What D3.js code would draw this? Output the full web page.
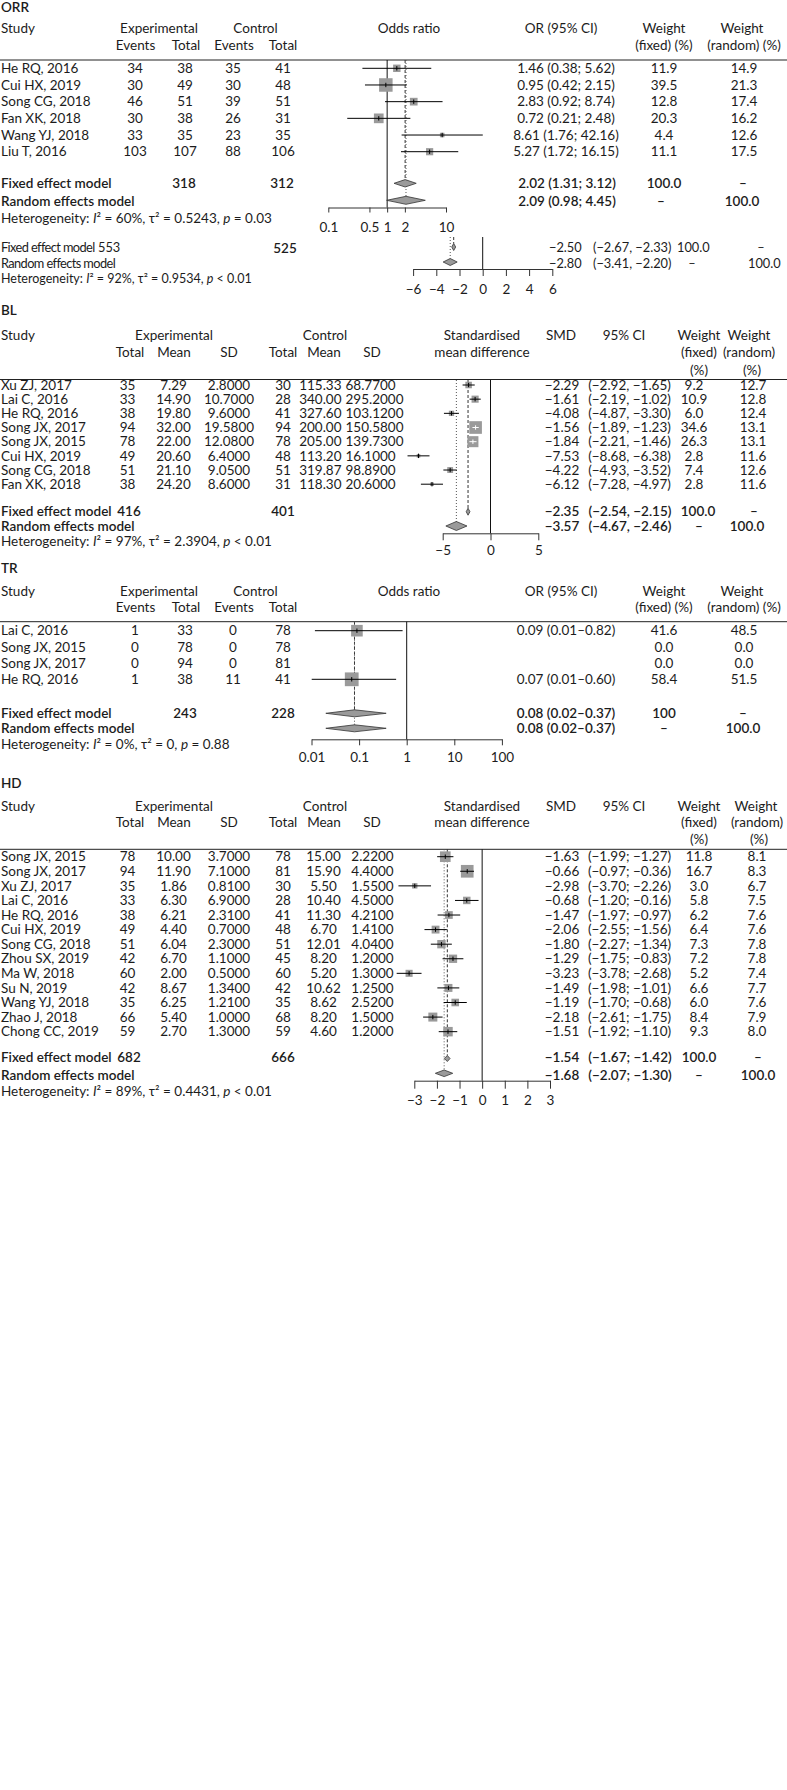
<!DOCTYPE html>
<html><head><meta charset="utf-8">
<script src="https://cdn.jsdelivr.net/npm/d3@7"></script>
<style>
body{margin:0;background:#fff;}
svg text{font-family:Lato,"Open Sans",sans-serif;font-size:13.5px;fill:#1c1c1c;}
</style></head><body>
<svg id="chart" width="787" height="1790"></svg>
<script>
// ---------------- ORR ----------------
const orrStudies = ["He RQ, 2016","Cui HX, 2019","Song CG, 2018","Fan XK, 2018","Wang YJ, 2018","Liu T, 2016"];
const orrExpEvents = [34,30,46,30,33,103];
const orrExpTotal = [38,49,51,38,35,107];
const orrCtrlEvents = [35,30,39,26,23,88];
const orrCtrlTotal = [41,48,51,31,35,106];
const orrOR = [1.46,0.95,2.83,0.72,8.61,5.27];
const orrLo = [0.38,0.42,0.92,0.21,1.76,1.72];
const orrHi = [5.62,2.15,8.74,2.48,42.16,16.15];
const orrWFixed = [11.9,39.5,12.8,20.3,4.4,11.1];
const orrWRandom = [14.9,21.3,17.4,16.2,12.6,17.5];
const orrFixed = [2.02,1.31,3.12];
const orrRandom = [2.09,0.98,4.45];
const orrTotals = [318,312];
const orrSumW = [["100.0","–"],["–","100.0"]];
const orrHet = ["60%","0.5243","= 0.03"];
const orrTicks = [0.1,0.5,1,2,10];
const orrTickLabels = ["0.1","0.5","1","2","10"];

// -------- pooled SMD block under ORR --------
const extraFixed = [-2.50,-2.67,-2.33];
const extraRandom = [-2.80,-3.41,-2.20];
const extraTotals = [553,525];
const extraSumW = [["100.0","–"],["–","100.0"]];
const extraHet = ["92%","0.9534","< 0.01"];
const extraTicks = [-6,-4,-2,0,2,4,6];

// ---------------- BL ----------------
const blStudies = ["Xu ZJ, 2017","Lai C, 2016","He RQ, 2016","Song JX, 2017","Song JX, 2015","Cui HX, 2019","Song CG, 2018","Fan XK, 2018"];
const blExpTotal = [35,33,38,94,78,49,51,38];
const blExpMean = [7.29,14.90,19.80,32.00,22.00,20.60,21.10,24.20];
const blExpSD = [2.8,10.7,9.6,19.58,12.08,6.4,9.05,8.6];
const blCtrlTotal = [30,28,41,94,78,48,51,31];
const blCtrlMean = [115.33,340.00,327.60,200.00,205.00,113.20,319.87,118.30];
const blCtrlSD = [68.77,295.2,103.12,150.58,139.73,16.1,98.89,20.6];
const blSMD = [-2.29,-1.61,-4.08,-1.56,-1.84,-7.53,-4.22,-6.12];
const blLo = [-2.92,-2.19,-4.87,-1.89,-2.21,-8.68,-4.93,-7.28];
const blHi = [-1.65,-1.02,-3.30,-1.23,-1.46,-6.38,-3.52,-4.97];
const blWFixed = [9.2,10.9,6.0,34.6,26.3,2.8,7.4,2.8];
const blWRandom = [12.7,12.8,12.4,13.1,13.1,11.6,12.6,11.6];
const blFixed = [-2.35,-2.54,-2.15];
const blRandom = [-3.57,-4.67,-2.46];
const blTotals = [416,401];
const blSumW = [["100.0","–"],["–","100.0"]];
const blHet = ["97%","2.3904","< 0.01"];
const blTicks = [-5,0,5];

// ---------------- TR ----------------
const trStudies = ["Lai C, 2016","Song JX, 2015","Song JX, 2017","He RQ, 2016"];
const trExpEvents = [1,0,0,1];
const trExpTotal = [33,78,94,38];
const trCtrlEvents = [0,0,0,11];
const trCtrlTotal = [78,78,81,41];
const trOR = [0.09,null,null,0.07];
const trLo = [0.0118,null,null,0.0101];
const trHi = [0.82,null,null,0.60];
const trWFixed = [41.6,0.0,0.0,58.4];
const trWRandom = [48.5,0.0,0.0,51.5];
const trFixed = [0.08,0.02,0.37];
const trRandom = [0.08,0.02,0.37];
const trTotals = [243,228];
const trSumW = [["100","–"],["–","100.0"]];
const trHet = ["0%","0","= 0.88"];
const trTicks = [0.01,0.1,1,10,100];
const trTickLabels = ["0.01","0.1","1","10","100"];

// ---------------- HD ----------------
const hdStudies = ["Song JX, 2015","Song JX, 2017","Xu ZJ, 2017","Lai C, 2016","He RQ, 2016","Cui HX, 2019","Song CG, 2018","Zhou SX, 2019","Ma W, 2018","Su N, 2019","Wang YJ, 2018","Zhao J, 2018","Chong CC, 2019"];
const hdExpTotal = [78,94,35,33,38,49,51,42,60,42,35,66,59];
const hdExpMean = [10.00,11.90,1.86,6.30,6.21,4.40,6.04,6.70,2.00,8.67,6.25,5.40,2.70];
const hdExpSD = [3.7,7.1,0.81,6.9,2.31,0.7,2.3,1.1,0.5,1.34,1.21,1.0,1.3];
const hdCtrlTotal = [78,81,30,28,41,48,51,45,60,42,35,68,59];
const hdCtrlMean = [15.00,15.90,5.50,10.40,11.30,6.70,12.01,8.20,5.20,10.62,8.62,8.20,4.60];
const hdCtrlSD = [2.22,4.4,1.55,4.5,4.21,1.41,4.04,1.2,1.3,1.25,2.52,1.5,1.2];
const hdSMD = [-1.63,-0.66,-2.98,-0.68,-1.47,-2.06,-1.80,-1.29,-3.23,-1.49,-1.19,-2.18,-1.51];
const hdLo = [-1.99,-0.97,-3.70,-1.20,-1.97,-2.55,-2.27,-1.75,-3.78,-1.98,-1.70,-2.61,-1.92];
const hdHi = [-1.27,-0.36,-2.26,-0.16,-0.97,-1.56,-1.34,-0.83,-2.68,-1.01,-0.68,-1.75,-1.10];
const hdWFixed = [11.8,16.7,3.0,5.8,6.2,6.4,7.3,7.2,5.2,6.6,6.0,8.4,9.3];
const hdWRandom = [8.1,8.3,6.7,7.5,7.6,7.6,7.8,7.8,7.4,7.7,7.6,7.9,8.0];
const hdFixed = [-1.54,-1.67,-1.42];
const hdRandom = [-1.68,-2.07,-1.30];
const hdTotals = [682,666];
const hdSumW = [["100.0","–"],["–","100.0"]];
const hdHet = ["89%","0.4431","< 0.01"];
const hdTicks = [-3,-2,-1,0,1,2,3];

// ================= drawing =================
const svg = d3.select("#chart");
svg.append("rect").attr("width",787).attr("height",1790).attr("fill","#fff");
const SQ = "#9a9a9a";
const f2 = d3.format(".2f"), f1 = d3.format(".1f"), f4 = d3.format(".4f"), fi = d3.format("d");

function T(g, x, y, s, o = {}) {
  const t = g.append("text").attr("x", x).attr("y", y).attr("dy", "0.35em")
    .attr("text-anchor", o.a || "middle").text(s);
  if (o.w) t.attr("font-weight", o.w);
  if (o.fs) t.style("font-size", o.fs + "px");
  if (o.ls) t.attr("letter-spacing", o.ls);
  return t;
}
const B = 600;
function title(g, s, y) { T(g, 1, y, s, {a: "start", w: 600}); }
function hline(g, y) {
  g.append("line").attr("x1", 0).attr("x2", 787).attr("y1", y).attr("y2", y)
    .attr("stroke", "#222").attr("stroke-width", 1);
}
function het(g, y, h, fs) {
  const t = g.append("text").attr("x", 1).attr("y", y).attr("dy", "0.35em");
  if (fs) t.style("font-size", fs + "px");
  t.append("tspan").text("Heterogeneity: ");
  t.append("tspan").attr("font-style", "italic").text("I");
  t.append("tspan").text("² = " + h[0] + ", τ² = " + h[1] + ", ");
  t.append("tspan").attr("font-style", "italic").text("p");
  t.append("tspan").text(" " + h[2]);
}
function col(g, vals, x, ys, fmt, a) {
  vals.forEach((v, i) => T(g, x, ys(i), fmt ? fmt(v) : v, {a: a || "middle"}));
}
function vline(g, x, y1, y2, dash, color) {
  const l = g.append("line").attr("x1", x).attr("x2", x).attr("y1", y1).attr("y2", y2)
    .attr("stroke", color || "#111").attr("stroke-width", 1);
  if (dash) l.attr("stroke-dasharray", dash);
}
function studies(g, x, ys, est, lo, hi, w, k) {
  est.forEach((e, i) => {
    if (e == null) return;
    const y = ys(i), s = k * Math.sqrt(w[i]), cx = x(e);
    g.append("rect").attr("x", cx - s / 2).attr("y", y - s / 2)
      .attr("width", s).attr("height", s).attr("fill", SQ);
    const inside = x(lo[i]) >= cx - s / 2 && x(hi[i]) <= cx + s / 2;
    const c = inside ? "#fff" : "#000";
    g.append("line").attr("x1", x(lo[i])).attr("x2", x(hi[i])).attr("y1", y).attr("y2", y)
      .attr("stroke", c).attr("stroke-width", 1);
    g.append("line").attr("x1", cx).attr("x2", cx).attr("y1", y - 2.2).attr("y2", y + 2.2)
      .attr("stroke", c).attr("stroke-width", 1);
  });
}
function diamond(g, x, y, v, h) {
  const p = d3.path();
  p.moveTo(x(v[1]), y); p.lineTo(x(v[0]), y - h); p.lineTo(x(v[2]), y); p.lineTo(x(v[0]), y + h); p.closePath();
  g.append("path").attr("d", p.toString()).attr("fill", SQ).attr("stroke", "#333").attr("stroke-width", 0.8);
}
function axis(g, x, ticks, labels, y, tick, labY) {
  const ax = d3.axisBottom(x).tickValues(ticks).tickSize(tick).tickSizeOuter(0);
  ax.tickFormat(labels ? (d, i) => labels[i] : fi);
  const a = g.append("g").attr("transform", `translate(0,${y})`).call(ax);
  a.attr("font-family", null).attr("font-size", null);
  a.selectAll("path,line").attr("stroke", "#333").attr("stroke-width", 1);
  a.selectAll("text").attr("y", labY - y).attr("dy", "0.35em").attr("fill", "#1c1c1c");
}

// ---------- ORR ----------
(function () {
  const g = svg.append("g");
  const ys = i => 68.3 + i * 16.68;
  const x = d3.scaleLog().domain([0.1, 10]).range([328.3, 446]);
  title(g, "ORR", 7);
  const h1 = 28, h2 = 45;
  T(g, 1, h1, "Study", {a: "start"});
  T(g, 159, h1, "Experimental"); T(g, 255.5, h1, "Control");
  T(g, 135.5, h2, "Events"); T(g, 186, h2, "Total"); T(g, 234, h2, "Events"); T(g, 283, h2, "Total");
  T(g, 409, h1, "Odds ratio"); T(g, 561, h1, "OR (95% CI)");
  T(g, 664, h1, "Weight"); T(g, 664, h2, "(fixed) (%)");
  T(g, 742, h1, "Weight"); T(g, 744, h2, "(random) (%)");
  hline(g, 60);
  col(g, orrStudies, 1, ys, null, "start");
  col(g, orrExpEvents, 135, ys); col(g, orrExpTotal, 185, ys);
  col(g, orrCtrlEvents, 233, ys); col(g, orrCtrlTotal, 283, ys);
  orrOR.forEach((e, i) => T(g, 566, ys(i), `${f2(e)} (${f2(orrLo[i])}; ${f2(orrHi[i])})`));
  col(g, orrWFixed, 664, ys, f1); col(g, orrWRandom, 744, ys, f1);
  const yf = 183.3, yr = 201.3;
  T(g, 1, yf, "Fixed effect model", {a: "start", w: B});
  T(g, 1, yr, "Random effects model", {a: "start", w: B});
  T(g, 184, yf, orrTotals[0], {w: B}); T(g, 282, yf, orrTotals[1], {w: B});
  T(g, 567, yf, `${f2(orrFixed[0])} (${f2(orrFixed[1])}; ${f2(orrFixed[2])})`, {w: B});
  T(g, 567, yr, `${f2(orrRandom[0])} (${f2(orrRandom[1])}; ${f2(orrRandom[2])})`, {w: B});
  T(g, 664, yf, orrSumW[0][0], {w: B}); T(g, 743, yf, orrSumW[0][1], {w: B});
  T(g, 661, yr, orrSumW[1][0], {w: B}); T(g, 742, yr, orrSumW[1][1], {w: B});
  het(g, 218.3, orrHet);
  vline(g, x(1), 60, 207.5);
  vline(g, x(orrFixed[0]), 60, yf - 3.5, "3,2", "#333");
  vline(g, x(orrRandom[0]), 60, yr - 4, "1,2", "#555");
  studies(g, x, ys, orrOR, orrLo, orrHi, orrWFixed, 2.15);
  diamond(g, x, yf, orrFixed, 3.7);
  diamond(g, x, 200.3, orrRandom, 4);
  axis(g, x, orrTicks, orrTickLabels, 207.5, 5, 227);
})();

// ---------- pooled block ----------
(function () {
  const g = svg.append("g");
  const x = d3.scaleLinear().domain([-6, 6]).range([413.1, 552.3]);
  const yf = 248, yr = 264, fs = 12.8;
  T(g, 1, yf, "Fixed effect model", {a: "start", fs: fs, ls: -0.6});
  T(g, 98, yf, extraTotals[0], {a: "start", fs: fs});
  T(g, 285, yf, extraTotals[1], {w: B});
  T(g, 1, yr, "Random effects model", {a: "start", fs: fs, ls: -0.6});
  het(g, 279, extraHet, 12.5);
  T(g, 549, yf, f2(extraFixed[0]), {a: "start", fs: fs});
  T(g, 593, yf, `(${f2(extraFixed[1])}, ${f2(extraFixed[2])})`, {a: "start", fs: fs});
  T(g, 677, yf, extraSumW[0][0], {a: "start", fs: fs}); T(g, 761, yf, extraSumW[0][1], {fs: fs});
  T(g, 549, yr, f2(extraRandom[0]), {a: "start", fs: fs});
  T(g, 593, yr, `(${f2(extraRandom[1])}, ${f2(extraRandom[2])})`, {a: "start", fs: fs});
  T(g, 692, yr, extraSumW[1][0], {fs: fs}); T(g, 748, yr, extraSumW[1][1], {a: "start", fs: fs});
  vline(g, x(0), 237, 269);
  vline(g, x(extraFixed[0]), 237, 243.5, "3,2", "#333");
  vline(g, x(extraRandom[0]), 237, 258.5, "1,2", "#555");
  diamond(g, x, 247, extraFixed, 3.5);
  diamond(g, x, 262, extraRandom, 3.5);
  axis(g, x, extraTicks, null, 269, 7, 289);
})();

// ---------- BL ----------
(function () {
  const g = svg.append("g");
  const ys = i => 385 + i * 14.17;
  const x = d3.scaleLinear().domain([-5, 5]).range([442.7, 538.3]);
  title(g, "BL", 310);
  const h1 = 335, h2 = 352.5, h3 = 370;
  T(g, 1, h1, "Study", {a: "start"});
  T(g, 174, h1, "Experimental"); T(g, 325, h1, "Control");
  T(g, 130, h2, "Total"); T(g, 174, h2, "Mean"); T(g, 229, h2, "SD");
  T(g, 283, h2, "Total"); T(g, 324, h2, "Mean"); T(g, 372, h2, "SD");
  T(g, 482, h1, "Standardised"); T(g, 482, h2, "mean difference");
  T(g, 561, h1, "SMD"); T(g, 624, h1, "95% CI");
  T(g, 699, h1, "Weight"); T(g, 699, h2, "(fixed)"); T(g, 699, h3, "(%)");
  T(g, 749, h1, "Weight"); T(g, 749, h2, "(random)"); T(g, 752, h3, "(%)");
  hline(g, 379.5);
  col(g, blStudies, 1, ys, null, "start");
  col(g, blExpTotal, 127.5, ys); col(g, blExpMean, 173.5, ys, f2); col(g, blExpSD, 229, ys, f4);
  col(g, blCtrlTotal, 283, ys); col(g, blCtrlMean, 341.5, ys, f2, "end"); col(g, blCtrlSD, 345.5, ys, f4, "start");
  col(g, blSMD, 562, ys, f2);
  blLo.forEach((l, i) => T(g, 629.5, ys(i), `(${f2(l)}, ${f2(blHi[i])})`));
  col(g, blWFixed, 694, ys, f1); col(g, blWRandom, 753, ys, f1);
  const yf = 511.7, yr = 526.7;
  T(g, 1, yf, "Fixed effect model", {a: "start", w: B});
  T(g, 1, yr, "Random effects model", {a: "start", w: B});
  T(g, 129, yf, blTotals[0], {w: B}); T(g, 283, yf, blTotals[1], {w: B});
  T(g, 562, yf, f2(blFixed[0]), {w: B}); T(g, 630, yf, `(${f2(blFixed[1])}, ${f2(blFixed[2])})`, {w: B});
  T(g, 562, yr, f2(blRandom[0]), {w: B}); T(g, 630, yr, `(${f2(blRandom[1])}, ${f2(blRandom[2])})`, {w: B});
  T(g, 698, yf, blSumW[0][0], {w: B}); T(g, 754, yf, blSumW[0][1], {w: B});
  T(g, 699, yr, blSumW[1][0], {w: B}); T(g, 747, yr, blSumW[1][1], {w: B});
  het(g, 541.7, blHet);
  vline(g, x(0), 380, 533.3);
  vline(g, x(blFixed[0]), 380, yf - 3.5, "3,2", "#333");
  vline(g, x(blRandom[0]), 380, yr - 4.5, "1,2", "#555");
  studies(g, x, ys, blSMD, blLo, blHi, blWFixed, 2.15);
  diamond(g, x, yf, blFixed, 3.5);
  diamond(g, x, 526, blRandom, 4.5);
  axis(g, x, blTicks, null, 533.3, 7, 550);
})();

// ---------- TR ----------
(function () {
  const g = svg.append("g");
  const ys = i => 630.7 + i * 16.2;
  const x = d3.scaleLog().domain([0.01, 100]).range([311.5, 501.9]);
  title(g, "TR", 568.3);
  const h1 = 591.7, h2 = 607.7;
  T(g, 1, h1, "Study", {a: "start"});
  T(g, 159, h1, "Experimental"); T(g, 255.5, h1, "Control");
  T(g, 135.5, h2, "Events"); T(g, 186, h2, "Total"); T(g, 234, h2, "Events"); T(g, 283, h2, "Total");
  T(g, 409, h1, "Odds ratio"); T(g, 561, h1, "OR (95% CI)");
  T(g, 664, h1, "Weight"); T(g, 664, h2, "(fixed) (%)");
  T(g, 742, h1, "Weight"); T(g, 744, h2, "(random) (%)");
  hline(g, 621.7);
  col(g, trStudies, 1, ys, null, "start");
  col(g, trExpEvents, 135, ys); col(g, trExpTotal, 185, ys);
  col(g, trCtrlEvents, 233, ys); col(g, trCtrlTotal, 283, ys);
  trOR.forEach((e, i) => { if (e != null) T(g, 566, ys(i), `${f2(e)} (${f2(trLo[i])}–${f2(trHi[i])})`); });
  col(g, trWFixed, 664, ys, f1); col(g, trWRandom, 744, ys, f1);
  const yf = 713.3, yr = 728.3;
  T(g, 1, yf, "Fixed effect model", {a: "start", w: B});
  T(g, 1, yr, "Random effects model", {a: "start", w: B});
  T(g, 185, yf, trTotals[0], {w: B}); T(g, 283, yf, trTotals[1], {w: B});
  T(g, 566, yf, `${f2(trFixed[0])} (${f2(trFixed[1])}–${f2(trFixed[2])})`, {w: B});
  T(g, 566, yr, `${f2(trRandom[0])} (${f2(trRandom[1])}–${f2(trRandom[2])})`, {w: B});
  T(g, 664, yf, trSumW[0][0], {w: B}); T(g, 743, yf, trSumW[0][1], {w: B});
  T(g, 664, yr, trSumW[1][0], {w: B}); T(g, 743, yr, trSumW[1][1], {w: B});
  het(g, 744, trHet);
  vline(g, x(1), 621.7, 739.3);
  vline(g, x(trFixed[0]), 621.7, yf - 3.5, "3,2", "#333");
  vline(g, x(trRandom[0]), 621.7, yr - 3.5, "1,2", "#555");
  studies(g, x, ys, trOR, trLo, trHi, trWFixed, 1.8);
  diamond(g, x, yf, trFixed, 3.5);
  diamond(g, x, yr, trRandom, 3.5);
  axis(g, x, trTicks, trTickLabels, 739.3, 6, 757);
})();

// ---------- HD ----------
(function () {
  const g = svg.append("g");
  const ys = i => 856.7 + i * 14.58;
  const x = d3.scaleLinear().domain([-3, 3]).range([414.3, 550]);
  title(g, "HD", 783.3);
  const h1 = 806, h2 = 822.7, h3 = 839.3;
  T(g, 1, h1, "Study", {a: "start"});
  T(g, 174, h1, "Experimental"); T(g, 325, h1, "Control");
  T(g, 130, h2, "Total"); T(g, 174, h2, "Mean"); T(g, 229, h2, "SD");
  T(g, 283, h2, "Total"); T(g, 324, h2, "Mean"); T(g, 372, h2, "SD");
  T(g, 482, h1, "Standardised"); T(g, 482, h2, "mean difference");
  T(g, 561, h1, "SMD"); T(g, 624, h1, "95% CI");
  T(g, 699, h1, "Weight"); T(g, 699, h2, "(fixed)"); T(g, 699, h3, "(%)");
  T(g, 756, h1, "Weight"); T(g, 757, h2, "(random)"); T(g, 759, h3, "(%)");
  hline(g, 849.3);
  col(g, hdStudies, 1, ys, null, "start");
  col(g, hdExpTotal, 127.5, ys); col(g, hdExpMean, 173.5, ys, f2); col(g, hdExpSD, 229, ys, f4);
  col(g, hdCtrlTotal, 283, ys); col(g, hdCtrlMean, 323.5, ys, f2); col(g, hdCtrlSD, 372.5, ys, f4);
  col(g, hdSMD, 562, ys, f2);
  hdLo.forEach((l, i) => T(g, 629.5, ys(i), `(${f2(l)}; ${f2(hdHi[i])})`));
  col(g, hdWFixed, 699, ys, f1); col(g, hdWRandom, 757, ys, f1);
  const yf = 1057.3, yr = 1075.7;
  T(g, 1, yf, "Fixed effect model", {a: "start", w: B});
  T(g, 1, yr, "Random effects model", {a: "start", w: B});
  T(g, 129, yf, hdTotals[0], {w: B}); T(g, 283, yf, hdTotals[1], {w: B});
  T(g, 562, yf, f2(hdFixed[0]), {w: B}); T(g, 630, yf, `(${f2(hdFixed[1])}; ${f2(hdFixed[2])})`, {w: B});
  T(g, 562, yr, f2(hdRandom[0]), {w: B}); T(g, 630, yr, `(${f2(hdRandom[1])}; ${f2(hdRandom[2])})`, {w: B});
  T(g, 699, yf, hdSumW[0][0], {w: B}); T(g, 758, yf, hdSumW[0][1], {w: B});
  T(g, 699, yr, hdSumW[1][0], {w: B}); T(g, 758, yr, hdSumW[1][1], {w: B});
  het(g, 1091, hdHet);
  vline(g, x(0), 849.3, 1080.7);
  vline(g, x(hdFixed[0]), 849.3, 1058.5 - 3, "3,2", "#333");
  vline(g, x(hdRandom[0]), 849.3, 1073.3 - 3.3, "1,2", "#555");
  studies(g, x, ys, hdSMD, hdLo, hdHi, hdWFixed, 3.1);
  diamond(g, x, 1058.5, hdFixed, 3);
  diamond(g, x, 1073.3, hdRandom, 3.3);
  axis(g, x, hdTicks, null, 1080.7, 8, 1100.7);
})();
</script></body></html>
